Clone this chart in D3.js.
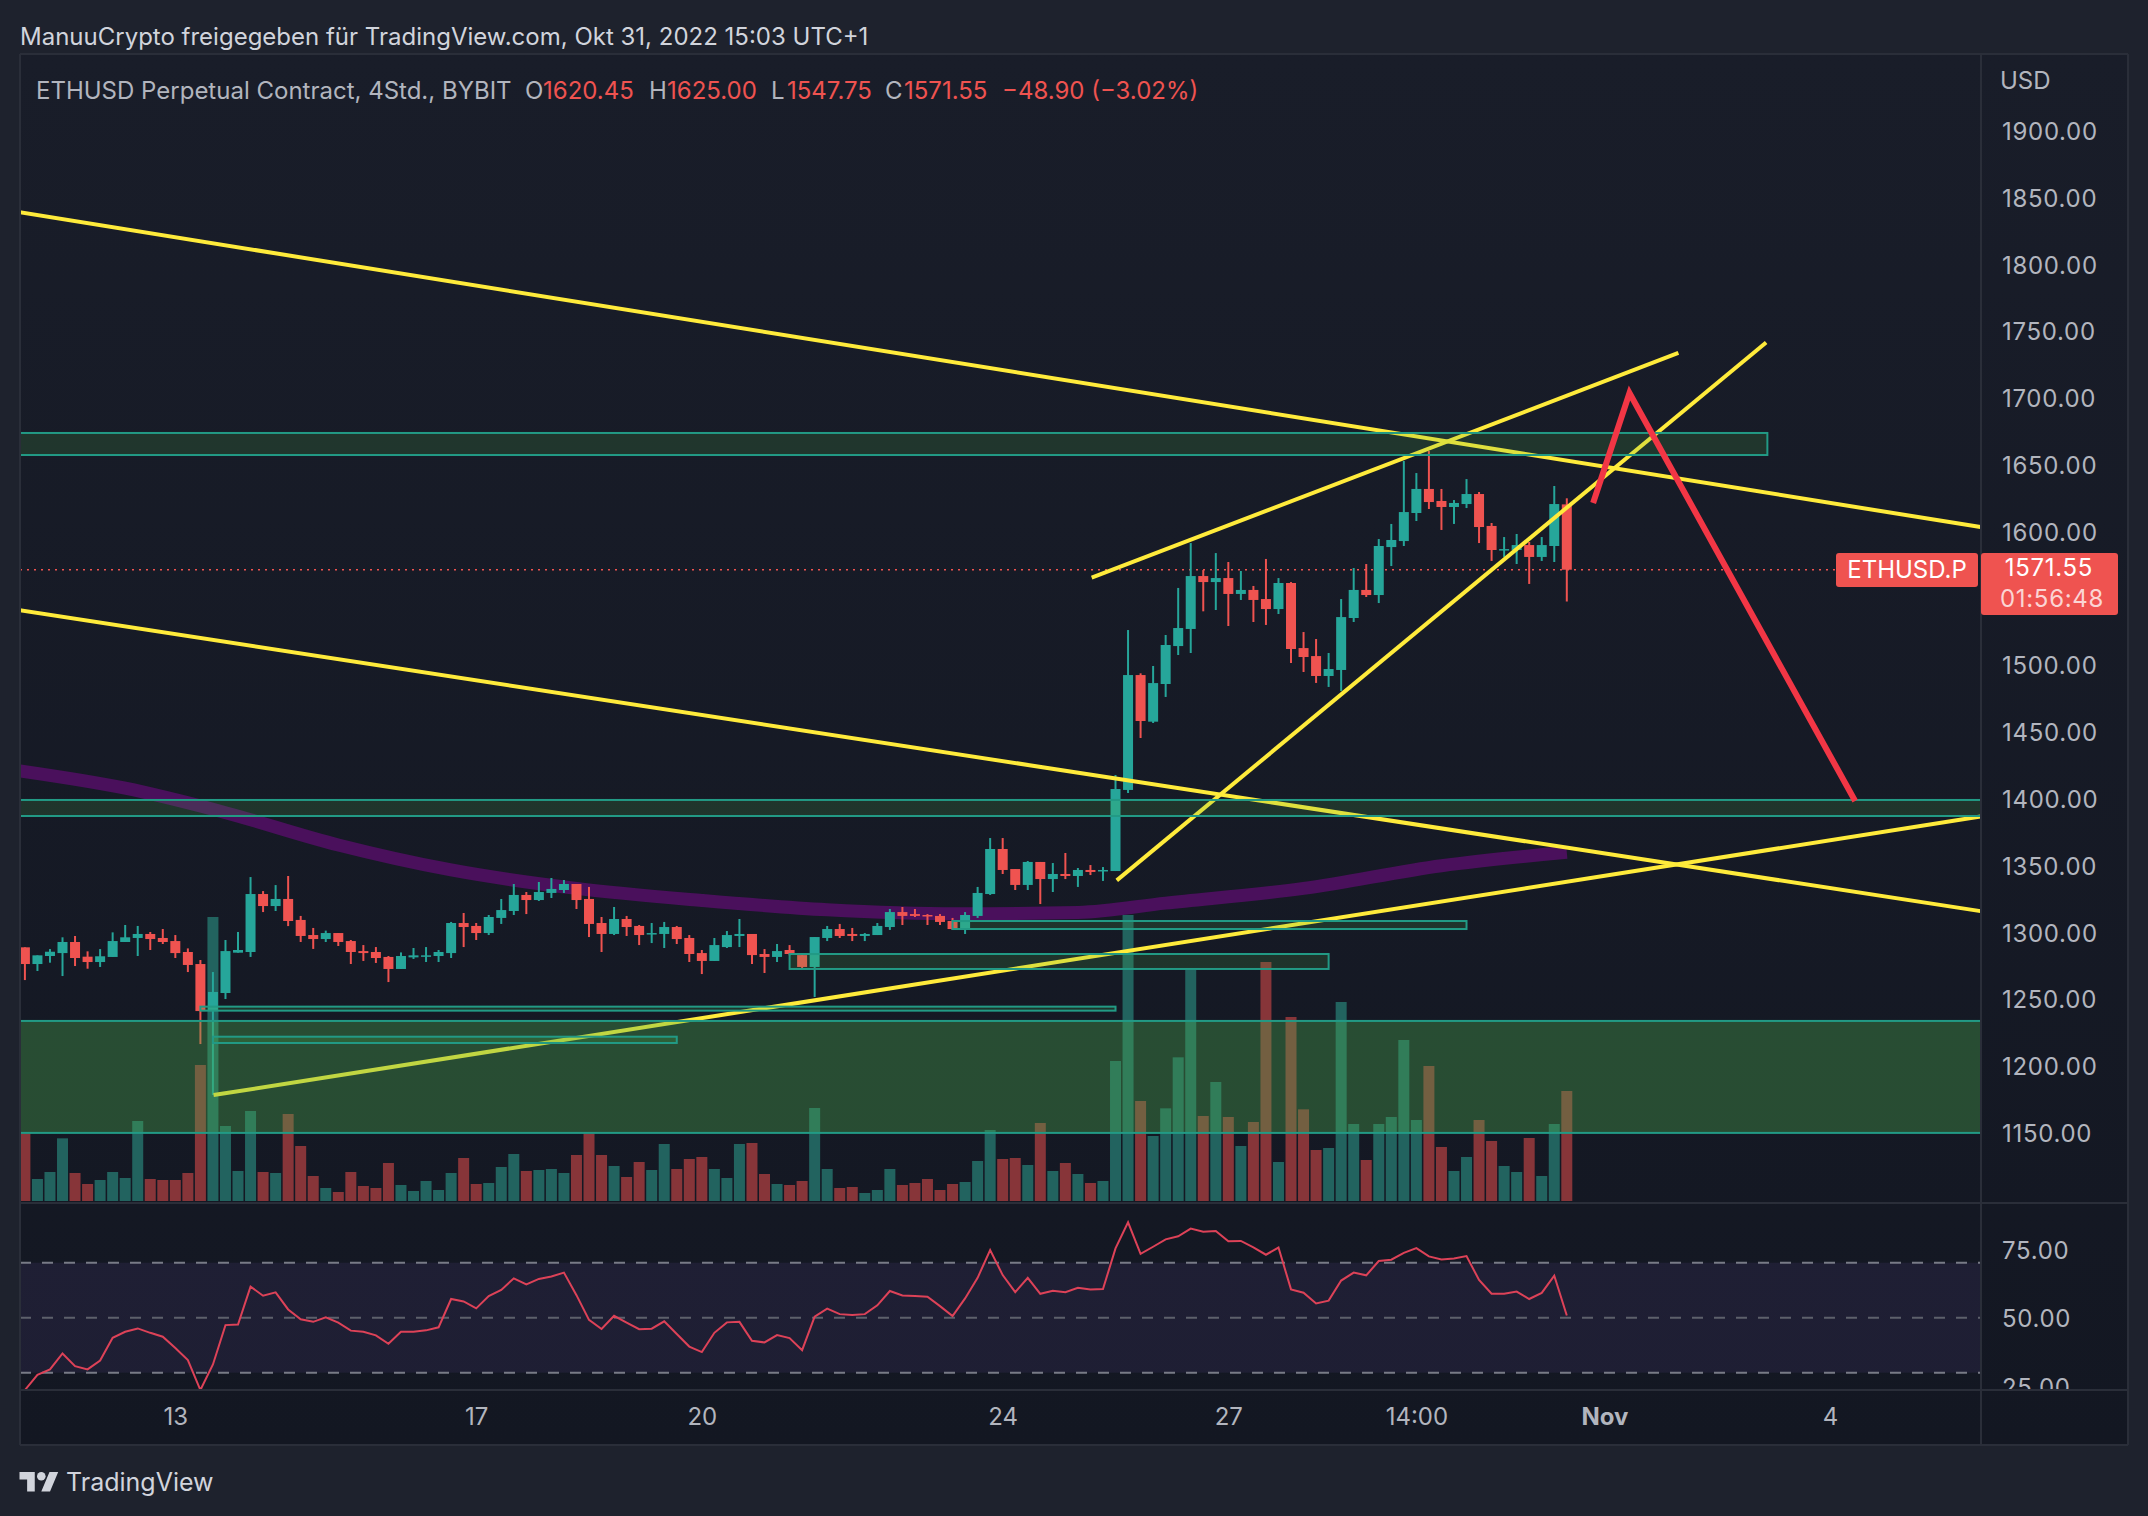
<!DOCTYPE html>
<html>
<head>
<meta charset="utf-8">
<script src="https://cdn.jsdelivr.net/npm/d3@7"></script>
<style>
  html, body { margin: 0; padding: 0; background: #1e222d; }
  svg { display: block; }
  text { font-family: Inter, "Noto Sans", sans-serif; }
</style>
</head>
<body>
<script>
const opens = [
  1288.9,1276.4,1282.4,1284.6,1292.9,1281.9,1277.9,1281.7,1292.9,1295.9,
  1298.9,1295.9,1293.6,1285.4,1276.4,1241.2,1254.7,1284.9,1285.4,1328.8,
  1319.8,1325.1,1309.4,1298.1,1295.1,1299.6,1293.6,1286.1,1285.4,1281.7,
  1272.7,1281.4,1281.9,1282.4,1284.6,1307.1,1304.9,1299.6,1310.9,1316.1,
  1328.1,1324.3,1329.6,1331.8,1336.3,1325.1,1307.1,1298.9,1310.1,1304.9,
  1298.9,1298.9,1304.1,1295.9,1284.6,1278.7,1289.1,1297.4,1298.9,1283.9,
  1281.7,1286.9,1283.1,1274.2,1295.9,1302.6,1298.9,1297.4,1298.1,1304.1,
  1315.3,1313.8,1313.1,1312.4,1308.6,1302.6,1312.4,1328.8,1362.5,1347.5,
  1335.6,1352.8,1340.0,1343.8,1342.3,1346.8,1346.0,1346.0,1406.7,1492.7,
  1457.8,1486.0,1514.4,1527.2,1566.8,1562.3,1565.3,1553.4,1556.4,1549.6,
  1542.1,1561.6,1512.9,1506.9,1492.0,1496.5,1535.4,1556.4,1552.6,1588.5,
  1593.0,1614.0,1632.0,1623.0,1618.5,1620.7,1628.2,1604.3,1586.3,1586.3,
  1590.0,1581.1,1589.3,1620.45
];
const highs = [
  1288.9,1282.9,1287.6,1296.4,1297.4,1285.9,1287.6,1300.1,1305.6,1304.9,
  1300.4,1302.6,1298.1,1288.1,1279.4,1270.4,1294.4,1300.4,1341.5,1331.0,
  1335.5,1342.3,1312.4,1303.4,1301.4,1299.6,1294.4,1290.6,1289.1,1282.4,
  1285.1,1288.4,1289.1,1286.9,1307.9,1314.6,1307.1,1313.1,1325.1,1336.3,
  1330.3,1337.8,1340.8,1339.3,1336.3,1334.1,1311.6,1319.1,1312.4,1305.6,
  1307.1,1307.9,1304.9,1298.1,1286.9,1295.9,1301.1,1310.1,1298.9,1287.6,
  1291.4,1290.6,1283.9,1296.6,1304.9,1306.4,1303.4,1299.6,1307.1,1317.6,
  1319.1,1317.6,1313.8,1313.8,1310.9,1315.3,1334.1,1370.7,1370.7,1347.5,
  1353.5,1352.8,1352.0,1359.5,1348.3,1350.5,1349.0,1417.9,1526.4,1494.0,
  1499.5,1522.7,1557.9,1591.5,1571.3,1584.0,1577.3,1570.6,1559.4,1579.6,
  1565.3,1562.3,1524.9,1519.7,1509.2,1549.6,1572.8,1575.8,1594.5,1605.8,
  1652.9,1643.9,1660.4,1632.0,1623.7,1639.4,1629.7,1606.5,1596.0,1598.3,
  1592.3,1596.0,1634.2,1625.0
];
const lows = [
  1264.4,1271.2,1277.4,1267.4,1274.9,1272.9,1274.2,1281.7,1292.9,1282.4,
  1286.9,1291.4,1280.9,1270.4,1216.5,1178.4,1250.2,1284.9,1281.7,1315.3,
  1316.1,1304.8,1292.9,1287.7,1292.9,1289.9,1276.4,1278.7,1277.2,1262.9,
  1272.7,1280.2,1277.9,1277.9,1280.9,1289.1,1294.4,1298.1,1306.4,1313.1,
  1313.8,1323.6,1325.8,1329.6,1317.6,1296.6,1285.4,1298.1,1297.4,1290.6,
  1292.1,1288.4,1291.4,1277.9,1268.9,1278.7,1288.4,1289.1,1276.4,1269.7,
  1277.9,1282.9,1273.4,1251.7,1293.6,1295.9,1293.6,1293.6,1298.1,1301.9,
  1305.6,1311.6,1305.6,1305.6,1301.9,1298.9,1310.9,1328.1,1343.8,1331.8,
  1331.8,1321.3,1330.3,1340.0,1334.1,1343.0,1338.6,1346.0,1404.4,1445.6,
  1456.8,1476.3,1507.7,1509.2,1540.4,1541.4,1529.4,1548.9,1532.4,1530.2,
  1538.4,1501.7,1495.0,1486.8,1483.8,1480.8,1532.4,1551.1,1546.6,1574.3,
  1589.3,1608.0,1617.0,1601.3,1605.8,1617.7,1591.5,1578.1,1581.1,1575.8,
  1560.9,1578.1,1577.3,1547.75
];
const closes = [
  1276.4,1282.9,1285.6,1292.9,1280.9,1277.9,1282.2,1293.6,1296.4,1298.9,
  1295.1,1292.9,1284.6,1275.7,1241.2,1255.5,1286.1,1286.9,1328.8,1319.8,
  1325.1,1308.6,1297.4,1295.1,1299.6,1292.9,1285.4,1284.6,1280.9,1272.7,
  1282.4,1282.9,1282.9,1285.4,1307.1,1304.1,1299.6,1311.6,1316.8,1328.1,
  1324.3,1330.3,1332.6,1336.3,1324.3,1306.4,1298.9,1310.1,1304.1,1298.1,
  1299.6,1304.1,1295.1,1283.9,1278.7,1290.6,1298.1,1298.9,1283.1,1281.7,
  1286.1,1283.9,1274.2,1296.6,1302.6,1297.4,1297.4,1298.9,1304.9,1315.3,
  1312.4,1312.4,1312.4,1307.9,1302.6,1313.1,1329.6,1362.5,1346.8,1335.6,
  1352.8,1340.0,1343.8,1342.3,1346.8,1345.3,1346.8,1407.4,1492.7,1458.3,
  1486.7,1515.2,1527.9,1566.8,1562.3,1565.3,1553.4,1556.4,1548.9,1542.1,
  1561.6,1512.2,1506.2,1492.0,1497.2,1536.1,1556.4,1552.6,1589.3,1593.8,
  1614.7,1632.0,1622.2,1618.5,1621.5,1628.2,1603.5,1586.3,1587.0,1590.0,
  1581.1,1590.0,1620.7,1571.55
];
const volumes = [
  203,66,87,188,84,51,63,87,69,240,
  66,63,63,84,408,852,225,90,270,87,
  84,261,165,75,39,27,87,45,39,114,
  48,30,60,33,84,129,51,54,102,141,
  90,93,96,84,138,203,138,105,72,117,
  93,171,96,126,132,96,69,171,174,81,
  51,48,60,279,96,39,42,24,33,96,
  48,54,66,33,51,57,120,213,126,129,
  108,234,90,114,81,54,60,420,858,300,
  195,278,431,693,255,357,252,165,237,717,
  117,552,275,153,159,597,231,123,231,252,
  483,243,405,162,90,132,243,180,105,87,
  189,75,231,330
];
const rsiValues = [
  23.7,29.2,31.2,37.0,32.4,31.2,34.4,42.7,44.9,46.1,
  44.5,43.1,39.0,34.6,23.7,33.0,47.3,47.5,61.3,58.0,
  59.2,53.0,49.4,48.5,50.1,48.2,45.3,44.9,43.6,40.5,
  44.9,44.9,45.4,46.5,56.8,55.9,53.4,57.9,60.1,64.3,
  62.1,64.1,65.0,66.4,58.2,49.2,45.9,50.7,48.2,45.8,
  46.0,48.7,44.1,39.5,37.5,44.5,48.3,48.5,41.6,41.0,
  43.7,42.6,38.2,50.4,53.3,51.3,51.0,51.3,54.5,59.7,
  58.1,57.9,57.6,54.2,50.6,57.0,64.5,74.6,65.5,59.3,
  64.5,58.7,59.8,59.3,60.9,60.3,60.4,75.2,84.7,73.2,
  75.8,78.5,79.6,82.4,81.3,81.5,77.8,77.9,75.6,72.9,
  75.5,60.3,59.1,55.2,56.2,63.5,66.4,65.4,70.6,71.1,
  73.6,75.3,72.3,71.2,71.5,72.4,63.7,58.7,58.7,59.5,
  56.8,59.0,65.3,50.8
];

// moving average, read every few candles
const maIndex = [-0.4,8,15.5,25,34,44,54,64,74.5,84,91,102,113,123];
const maValues = [1421,1408,1391,1365.5,1346.8,1333,1324,1317,1314,1315,1322,1333,1350,1360];

// drawn boxes, x in candle numbers
const zoneStart = [-5,-5,-5,74,61,14,15];
const zoneEnd = [139,170,170,115,104,87,52];
const zoneTop = [1673.9,1399.2,1233.8,1308.6,1283.9,1244.5,1222];
const zoneBottom = [1657.4,1387.2,1150,1302.6,1272.7,1241.5,1217.3];

// drawn trend lines: x1, price1, x2, price2
const trendLines = [
  [-0.55,1839.3,156,1603.5],
  [-0.55,1541.4,156,1316],
  [15.05,1178.3,156,1386.8],
  [85.1,1565.6,131.9,1733.8],
  [87.1,1339,138.9,1741.6]
];
const forecastIndex = [125.1,128,146];
const forecastPrice = [1621.5,1703.8,1398.4];

const priceTicks = d3.range(1150, 1901, 50);
const rsiTicks = [25,50,75];
const timeTicks = [12,36,54,78,96,111,126,144];
const timeLabels = ['13','17','20','24','27','14:00','Nov','4'];
const lastPrice = 1571.55;

const W = 2148, H = 1516;
const up = '#26a69a', down = '#ef5350';
const plotL = 20, plotR = 1981, plotT = 54, mainB = 1202, rsiB = 1390, timeB = 1445, axisR = 2128;

const x = d3.scaleLinear().domain([0,123]).range([24.9,1566.8]);
const y = d3.scaleLinear().domain([1900,1150]).range([130.9,1132.9]);
const yVol = d3.scaleLinear().domain([0,858]).range([1201,915]);
const yRsi = d3.scaleLinear().domain([70,30]).range([1262.7,1372.7]);

const svg = d3.select('body').append('svg').attr('width',W).attr('height',H);
const defs = svg.append('defs');
const grad = defs.append('linearGradient').attr('id','bg').attr('x1',0).attr('y1',0).attr('x2',0).attr('y2',1);
grad.append('stop').attr('offset','0%').attr('stop-color','#191d29');
grad.append('stop').attr('offset','100%').attr('stop-color','#131722');
defs.append('clipPath').attr('id','mainClip').append('rect').attr('x',plotL).attr('y',plotT).attr('width',plotR-plotL).attr('height',mainB-plotT);
defs.append('clipPath').attr('id','rsiClip').append('rect').attr('x',plotL).attr('y',mainB).attr('width',axisR-plotL).attr('height',rsiB-mainB);

svg.append('rect').attr('width',W).attr('height',H).attr('fill','#1e222d');
svg.append('rect').attr('x',plotL).attr('y',plotT).attr('width',axisR-plotL).attr('height',timeB-plotT).attr('fill','url(#bg)');

const main = svg.append('g').attr('clip-path','url(#mainClip)');

// volume
main.append('g').selectAll('rect').data(volumes).join('rect')
  .attr('x',(d,i)=>x(i)-5.5).attr('width',11)
  .attr('y',d=>yVol(d)).attr('height',d=>yVol(0)-yVol(d))
  .attr('fill',(d,i)=>closes[i]>=opens[i] ? '#22635f' : '#873539');

// moving average
main.append('path')
  .attr('d',d3.line().x(d=>x(d)).y((d,i)=>y(maValues[i])).curve(d3.curveMonotoneX)(maIndex))
  .attr('fill','none').attr('stroke','#4a105c').attr('stroke-width',13);

// last price
main.append('line').attr('x1',plotL).attr('x2',1836).attr('y1',y(lastPrice)).attr('y2',y(lastPrice))
  .attr('stroke',down).attr('stroke-width',1.6).attr('stroke-dasharray','2 5');

// candles
const candles = main.append('g').selectAll('g').data(opens).join('g');
candles.append('line')
  .attr('x1',(d,i)=>x(i)).attr('x2',(d,i)=>x(i))
  .attr('y1',(d,i)=>y(highs[i])).attr('y2',(d,i)=>y(lows[i]))
  .attr('stroke',(d,i)=>closes[i]>=d ? up : down).attr('stroke-width',2);
candles.append('rect')
  .attr('x',(d,i)=>x(i)-5).attr('width',10)
  .attr('y',(d,i)=>y(Math.max(d,closes[i])))
  .attr('height',(d,i)=>Math.max(1.5,Math.abs(y(d)-y(closes[i]))))
  .attr('fill',(d,i)=>closes[i]>=d ? up : down);

// trend lines
main.append('g').selectAll('line').data(trendLines).join('line')
  .attr('x1',d=>x(d[0])).attr('y1',d=>y(d[1])).attr('x2',d=>x(d[2])).attr('y2',d=>y(d[3]))
  .attr('stroke','#ffeb3b').attr('stroke-width',4);

// boxes go over the lines, the yellow turns greenish inside them
main.append('g').selectAll('rect').data(zoneStart).join('rect')
  .attr('x',d=>x(d)).attr('width',(d,i)=>x(zoneEnd[i])-x(d))
  .attr('y',(d,i)=>y(zoneTop[i])).attr('height',(d,i)=>y(zoneBottom[i])-y(zoneTop[i]))
  .attr('fill','#4caf50').attr('fill-opacity',(d,i)=>i==2 ? 0.35 : 0.18)
  .attr('stroke','#229a85').attr('stroke-width',2);

main.append('path')
  .attr('d',d3.line().x(d=>x(d)).y((d,i)=>y(forecastPrice[i]))(forecastIndex))
  .attr('fill','none').attr('stroke','#f23645').attr('stroke-width',6);

// rsi pane
const rsiPane = svg.append('g').attr('clip-path','url(#rsiClip)');
rsiPane.append('rect').attr('x',plotL).attr('width',plotR-plotL)
  .attr('y',yRsi(70)).attr('height',yRsi(30)-yRsi(70)).attr('fill','#7e57c2').attr('fill-opacity',0.11);
[70,50,30].forEach(v => {
  rsiPane.append('line').attr('x1',plotL).attr('x2',plotR).attr('y1',yRsi(v)).attr('y2',yRsi(v))
    .attr('stroke',v==50 ? '#5d606b' : '#787b86').attr('stroke-width',2).attr('stroke-dasharray','11 11');
});
rsiPane.append('path')
  .attr('d',d3.line().x((d,i)=>x(i)).y(d=>yRsi(d))(rsiValues))
  .attr('fill','none').attr('stroke','#dd4258').attr('stroke-width',2);

// axes
defs.append('clipPath').attr('id','rsiAxisClip').append('rect').attr('x',-10).attr('y',mainB).attr('width',140).attr('height',rsiB-mainB);
const priceAxis = svg.append('g').attr('transform','translate(2002,1)')
  .call(d3.axisRight(y).tickValues(priceTicks).tickSize(0).tickPadding(0).tickFormat(d3.format('.2f')));
const rsiAxis = svg.append('g').attr('transform','translate(2002,0)').attr('clip-path','url(#rsiAxisClip)')
  .call(d3.axisRight(d3.scaleLinear().domain([75,25]).range([yRsi(75)+1.5,yRsi(25)+1.5])).tickValues(rsiTicks).tickSize(0).tickPadding(0).tickFormat(d3.format('.2f')));
const timeAxis = svg.append('g').attr('transform','translate(0,1408)')
  .call(d3.axisBottom(x).tickValues(timeTicks).tickSize(0).tickPadding(0).tickFormat((d,i)=>timeLabels[i]));
[priceAxis,rsiAxis,timeAxis].forEach(a => {
  a.select('.domain').remove();
  a.selectAll('text').attr('fill','#b2b5be').style('font-size','24px').style('font-family','Inter, "Noto Sans", sans-serif');
});
priceAxis.selectAll('text').style('letter-spacing','0.7px');
rsiAxis.selectAll('text').style('letter-spacing','0.7px');
timeAxis.selectAll('text').filter((d,i)=>timeLabels[i]=='Nov').style('font-weight','700');

// pane borders
const border = '#2a2e39';
[[plotL,plotT,axisR,plotT],[plotL,plotT,plotL,timeB],[plotL,timeB,axisR,timeB],[axisR,plotT,axisR,timeB],
 [plotR,plotT,plotR,timeB],[plotL,mainB+1,axisR,mainB+1],[plotL,rsiB,axisR,rsiB]].forEach(b => {
  svg.append('line').attr('x1',b[0]).attr('y1',b[1]).attr('x2',b[2]).attr('y2',b[3]).attr('stroke',border).attr('stroke-width',2);
});

// price tags
svg.append('rect').attr('x',1836).attr('y',553).attr('width',142).attr('height',34).attr('rx',3).attr('fill',down);
svg.append('rect').attr('x',1981).attr('y',553).attr('width',137).attr('height',62).attr('rx',3).attr('fill',down);
function label(txt,px,py,color,size,anchor) {
  return svg.append('text').attr('x',px).attr('y',py).attr('fill',color)
    .attr('font-size',size).attr('text-anchor',anchor||'start').attr('dominant-baseline','middle').text(txt);
}
label('ETHUSD.P',1907,571,'#ffffff',24,'middle');
label('1571.55',2049,569.5,'#ffffff',24,'middle').style('letter-spacing','0.7px');
label('01:56:48',2052,600,'#fbd5d4',24,'middle').style('letter-spacing','0.7px');
label('USD',2000,82,'#b2b5be',24);

// header texts
label('ManuuCrypto freigegeben für TradingView.com, Okt 31, 2022 15:03 UTC+1',20,38.5,'#d1d4dc',24);
const grey = '#b2b5be', red = '#ef5350';
label('ETHUSD Perpetual Contract, 4Std., BYBIT',36,92,grey,24);
label('O',525,92,grey,24); label('1620.45',543,92,red,24);
label('H',649,92,grey,24); label('1625.00',667,92,red,24);
label('L',771,92,grey,24); label('1547.75',787,92,red,24);
label('C',885,92,grey,24); label('1571.55',904,92,red,24);
label('−48.90 (−3.02%)',1002,92,red,24);

// logo
svg.append('path').attr('transform','translate(19.5,1467.6) scale(1.09)')
  .attr('d','M14 22H7V11H0V4h14v18zM28 22h-8l7.5-18h8L28 22z').attr('fill','#d1d4dc');
svg.append('circle').attr('cx',19.5+20*1.09).attr('cy',1467.6+8*1.09).attr('r',4.3).attr('fill','#d1d4dc');
label('TradingView',66,1484,'#d1d4dc',25);
</script>
</body>
</html>
